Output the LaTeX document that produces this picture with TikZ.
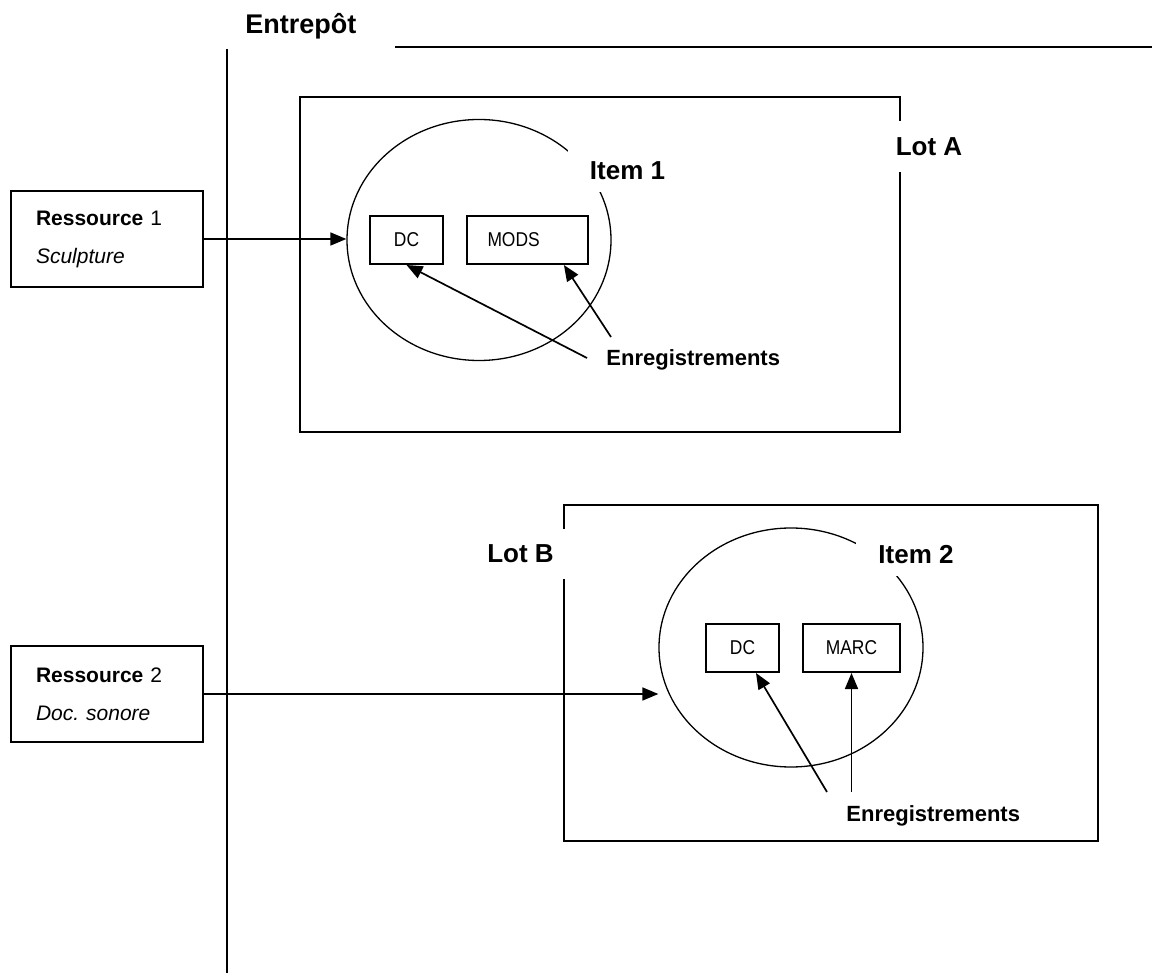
\documentclass[tikz,border=0pt]{standalone}
\usepackage{fontspec}
\setmainfont{Liberation Sans}
\newfontfamily\etroite[FakeStretch=0.87]{Liberation Sans}
\usetikzlibrary{calc}
\usetikzlibrary{arrows.meta, shapes.geometric}

\begin{document}
\begin{tikzpicture}[
		x=0.5pt, y=-0.5pt,
		>=latex,
		link/.style={line width=0.85pt,-{Triangle[length=8pt, width=6.5pt]}},
		boite/.style={draw,line width=1pt,inner sep=0pt},
		item/.style={draw,ellipse,line width=0.65pt,inner sep=0pt},
		titre/.style={fill=white,font=\bfseries\fontsize{13}{15}\selectfont,inner xsep=6pt,inner ysep=8pt},
		etiq/.style={titre,inner xsep=11pt,inner ysep=6pt},
		format/.style={boite,minimum height=24pt,font=\etroite\fontsize{10}{12}\selectfont},
		ressource/.style={boite,minimum width=96pt,minimum height=48pt,text width=71pt,inner xsep=10.5pt,align=left,font=\fontsize{10.5}{19}\selectfont},
		enreg/.style={font=\bfseries\fontsize{11}{13}\selectfont,inner sep=0pt},
	]
	\useasboundingbox (0,0) rectangle (1152,978);
	% entrepot
	\node[anchor=base west, font=\bfseries\fontsize{13.5}{15}\selectfont, inner sep=0pt] (entrepot) at (245,34) {Entrepôt};
	\draw[line width=1pt] (395,47) -- (1152,47);
	\draw[line width=0.9pt] (227,49) -- (227,973);
	% ressources
	\node[ressource] (res1) at (107,239) {\textbf{Ressource} 1\\\textit{Sculpture}};
	\node[ressource] (res2) at (107,694) {\textbf{Ressource} 2\\\textit{Doc.\ sonore}};
	% lot A
	\node[boite, anchor=north west, minimum width=300pt, minimum height=167.5pt] (lotA) at (299,96) {};
	\node[item, minimum width=132pt, minimum height=120.5pt] (item1) at (479,240) {};
	\node[format, minimum width=36.5pt] (dc1) at (406.5,240) {DC};
	\node[format, text width=39.5pt, inner xsep=10.5pt, align=left] (mods) at (527,240) {MODS};
	\node[titre] (lblA) at (929,146.5) {Lot A};
	\node[etiq] (lbl1) at (627.5,171) {Item 1};
	\node[enreg, anchor=west] (enr1) at (606,360) {Enregistrements};
	\coordinate (e1a) at (587,358);
	\coordinate (e1b) at (611,337);
	% lot B
	\node[boite, anchor=north west, minimum width=267pt, minimum height=168pt] (lotB) at (563,504) {};
	\node[item, minimum width=132pt, minimum height=119.5pt] (item2) at (791,647.5) {};
	\node[format, minimum width=36.5pt] (dc2) at (742.5,648) {DC};
	\node[format, minimum width=48.5pt] (marc) at (851.5,648) {MARC};
	\node[titre] (lblB) at (520.5,554) {Lot B};
	\node[etiq] (lbl2) at (916,555) {Item 2};
	\node[enreg, anchor=west] (enr2) at (846,815.5) {Enregistrements};
	\coordinate (e2a) at (827,792);
	\coordinate (e2b) at (851.5,792);
	% liens
	\draw[link] (res1.east) -- (res1.east -| item1.west);
	\draw[link] (res2.east) -- (res2.east -| item2.west);
	\draw[link] (e1a) -- (dc1.south);
	\draw[link] (e1b) -- ($(mods.south west)!0.8!(mods.south east)$);
	\draw[link] (e2a) -- ($(dc2.south west)!0.68!(dc2.south east)$);
	\draw[link] (e2b) -- (marc.south);
\end{tikzpicture}
\end{document}
